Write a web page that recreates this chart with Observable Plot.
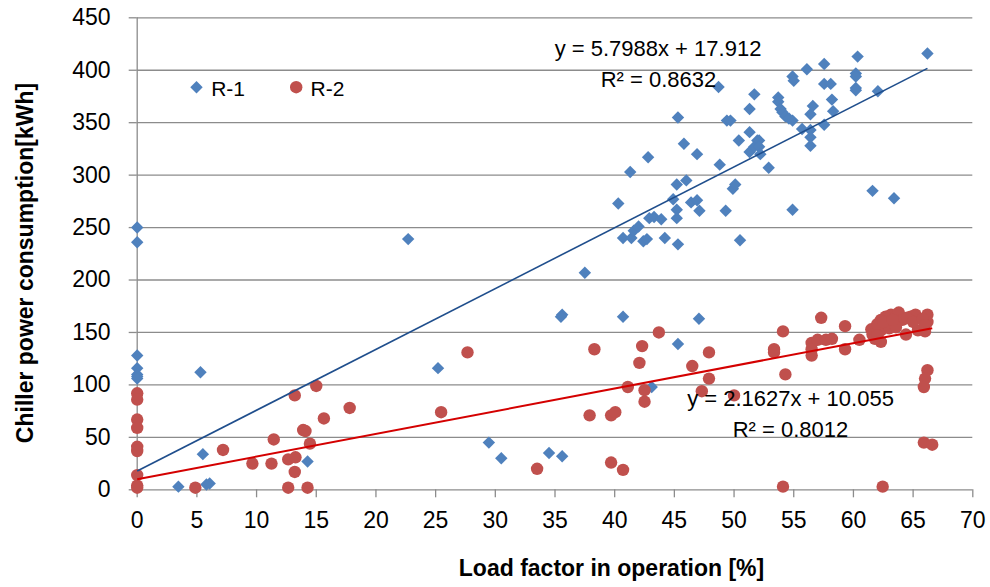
<!DOCTYPE html>
<html>
<head>
<meta charset="utf-8">
<script src="https://cdn.jsdelivr.net/npm/d3@7"></script>
<script src="https://cdn.jsdelivr.net/npm/@observablehq/plot@0.6"></script>
<style>
  html, body { margin: 0; padding: 0; background: #fff; }
  #chart { width: 990px; height: 587px; }
</style>
</head>
<body>
<div id="chart"></div>
<script>
// ---- data ----
const seriesNames = ["R-1", "R-2"];

const r1x = [0, 0, 0, 0, 0, 0, 0, 0,
  3.45, 5.3, 5.5, 5.8, 6.07,
  14.27, 22.7, 25.2, 29.46, 30.5, 34.5, 35.6,
  35.6, 35.5, 37.5, 40.7, 45.3, 47.06, 43.1,
  40.3, 41.3, 42.8, 40.7, 41.4, 41.6, 42.0, 42.4, 42.7, 42.9, 43.3, 43.9, 44.2, 45.3, 45.2, 45.2, 44.9, 45.2, 46.0, 46.4, 46.9, 47.1,
  45.3, 45.8, 46.9, 48.8, 49.3, 49.9, 50.1, 50.5, 48.7, 49.4, 49.7, 50.4, 51.3, 51.7, 51.3, 51.3, 51.7, 51.95, 52.1, 52.1, 52.2, 52.9,
  54.9, 53.7, 53.7, 53.9, 54.05, 54.3, 54.6, 54.9, 54.9, 55.0, 56.1, 55.7, 56.4, 56.4, 56.4, 56.4, 56.6,
  57.55, 57.55, 58.1, 58.2, 58.3, 57.55, 60.35, 60.2, 60.2, 60.2, 60.2, 62.05, 61.6, 63.4, 66.2];
const r1y = [250, 236, 128, 116, 110, 108, 106, 4,
  3, 112, 34, 5, 6,
  27, 239, 116, 45, 30, 35, 32,
  167, 165, 207, 165, 139, 163, 98,
  273, 303, 317, 240, 240, 247, 251, 237, 239, 259, 260, 258, 240, 234, 259, 267, 277, 291, 295, 274, 276, 266,
  355, 330, 320, 310, 266, 287, 291, 238, 384, 352, 352, 333, 363, 377, 341, 322, 327, 333, 333, 327, 320, 307,
  267, 374, 370, 363, 360, 356, 354, 352, 394, 390, 401, 344, 343, 336, 328, 358, 366,
  406, 387, 387, 372, 361, 348, 413, 397, 394, 383, 381, 380, 285, 278, 416];

const r2x = [0, 0, 0, 0, 0, 0, 0, 0, 0,
  4.87, 7.19, 9.65, 11.25, 11.44, 12.65, 13.26, 13.2, 12.65, 14.27, 13.2, 13.9, 14.1, 14.47, 15.0, 15.64, 17.8,
  25.46, 27.67, 33.5, 37.9, 38.3, 39.7, 40.7, 39.7, 40.05, 41.1, 42.07, 42.3, 42.5, 42.5, 43.7, 46.5, 47.9, 47.9, 47.3, 50.0,
  53.35, 53.35, 54.1, 54.3, 54.1, 57.3, 56.5, 56.5, 56.5, 57.0, 57.7, 58.2, 59.3, 59.3, 60.5, 61.5, 61.6,
  62.3, 62.3, 62.3, 62.45, 62.7, 63.15, 63.56, 63.8, 64.1, 64.4, 63.0, 63.56, 64.8, 65.2, 65.4,
  66.2, 66.2, 66.0, 66.2, 66.0, 65.9, 65.9, 66.6,
  62.0, 62.5, 63.3, 64.5, 65.0, 65.8, 66.0, 61.8, 62.0];
const r2y = [92, 86, 67, 59, 41, 37, 14, 4, 2,
  2, 38, 25, 25, 48, 29, 31, 17, 2, 2, 90, 57, 56, 44, 99, 68, 78,
  74, 131, 20, 71, 134, 26, 19, 71, 74, 98, 121, 137, 95, 84, 150, 118, 131, 106, 94, 90,
  134, 131, 151, 110, 3, 164, 140, 134, 128, 143, 143, 144, 156, 134, 143, 153, 148,
  162, 152, 141, 3, 165, 167, 165, 169, 162, 148, 154, 155, 165, 167, 152,
  167, 160, 151, 114, 106, 98, 45, 43,
  158, 160, 162, 164, 160, 163, 157, 144, 147];

// trendline equations shown on the chart
const trendSlope = [5.7988, 2.1627];
const trendIntercept = [17.912, 10.055];
const trendLabels = ["y = 5.7988x + 17.912", "y = 2.1627x + 10.055"];
const r2Labels = ["R² = 0.8632", "R² = 0.8012"];

const xTicks = d3.range(0, 71, 5);
const yTicks = d3.range(0, 451, 50);
const xTitle = "Load factor in operation [%]";
const yTitle = "Chiller power consumption[kWh]";

// ---- build tables ----
const r1 = r1x.map((x, i) => ({x, y: r1y[i]}));
const r2 = r2x.map((x, i) => ({x, y: r2y[i]}));
const trends = [r1x, r2x].map((xs, i) => {
  const x0 = d3.min(xs), x1 = d3.max(xs);
  return {i, x0, x1, y0: trendIntercept[i] + trendSlope[i] * x0, y1: trendIntercept[i] + trendSlope[i] * x1};
});

const BLUE = "#4f81bd", RED = "#c0504d";
const BLUE_LINE = "#1f4e8c", RED_LINE = "#d40000";
const GRID = "#8c8c8c";
const FONT = "'Liberation Sans', Arial, sans-serif";

const chart = Plot.plot({
  width: 990,
  height: 587,
  marginLeft: 136.7,
  marginRight: 17.7,
  marginTop: 17.3,
  marginBottom: 97.7,
  x: {domain: [0, 70]},
  y: {domain: [0, 450]},
  style: {fontFamily: FONT, background: "#fff", color: "#000", overflow: "visible"},
  marks: [
    Plot.gridY(yTicks.filter(d => d > 0), {stroke: GRID, strokeOpacity: 1, strokeWidth: 1.3}),
    Plot.ruleY([0], {stroke: GRID, strokeWidth: 1.3}),
    Plot.ruleX([0], {stroke: GRID, strokeWidth: 1.3}),
    Plot.axisY(yTicks, {tickSize: 8, tickPadding: 18.7, stroke: GRID, strokeWidth: 1.3, fill: "#000", fontSize: 23, label: null}),
    Plot.axisX(xTicks, {tickSize: 8, tickPadding: 14, stroke: GRID, strokeWidth: 1.3, fill: "#000", fontSize: 23, label: null}),
    // series
    Plot.dot(r1, {x: "x", y: "y", symbol: "diamond2", r: 5.6, fill: BLUE, stroke: "none"}),
    Plot.dot(r2, {x: "x", y: "y", symbol: "circle", r: 6.2, fill: RED, stroke: "none"}),
    // trendlines
    Plot.link(trends.filter(d => d.i === 0), {x1: "x0", y1: "y0", x2: "x1", y2: "y1", stroke: BLUE_LINE, strokeWidth: 1.6}),
    Plot.link(trends.filter(d => d.i === 1), {x1: "x0", y1: "y0", x2: "x1", y2: "y1", stroke: RED_LINE, strokeWidth: 2}),
    // trendline labels
    Plot.text([trendLabels[0]], {text: d => d, frameAnchor: "top-left", dx: 520.8, dy: 37.7, lineAnchor: "bottom", textAnchor: "middle", fontSize: 22, fill: "#000"}),
    Plot.text([r2Labels[0]], {text: d => d, frameAnchor: "top-left", dx: 521.3, dy: 69.4, lineAnchor: "bottom", textAnchor: "middle", fontSize: 22, fill: "#000"}),
    Plot.text([trendLabels[1]], {text: d => d, frameAnchor: "top-left", dx: 653.3, dy: 387.7, lineAnchor: "bottom", textAnchor: "middle", fontSize: 22, fill: "#000"}),
    Plot.text([r2Labels[1]], {text: d => d, frameAnchor: "top-left", dx: 653.3, dy: 419.4, lineAnchor: "bottom", textAnchor: "middle", fontSize: 22, fill: "#000"}),
    // legend
    Plot.dot([seriesNames[0]], {frameAnchor: "top-left", dx: 59.3, dy: 69.4, symbol: "diamond2", r: 5.6, fill: BLUE, stroke: "none"}),
    Plot.text([seriesNames[0]], {text: d => d, frameAnchor: "top-left", dx: 74, dy: 77.7, lineAnchor: "bottom", textAnchor: "start", fontSize: 21, fill: "#000"}),
    Plot.dot([seriesNames[1]], {frameAnchor: "top-left", dx: 159, dy: 69.4, symbol: "circle", r: 6.2, fill: RED, stroke: "none"}),
    Plot.text([seriesNames[1]], {text: d => d, frameAnchor: "top-left", dx: 173.3, dy: 77.7, lineAnchor: "bottom", textAnchor: "start", fontSize: 21, fill: "#000"}),
    // axis titles
    Plot.text([xTitle], {text: d => d, frameAnchor: "bottom", dx: 56.5, dy: 86.4, lineAnchor: "bottom", textAnchor: "middle", fontSize: 23, fontWeight: "bold", fill: "#000"}),
    Plot.text([yTitle], {text: d => d, frameAnchor: "left", dx: -104.7, dy: 9.2, rotate: -90, lineAnchor: "bottom", textAnchor: "middle", fontSize: 23, fontWeight: "bold", fill: "#000"})
  ]
});

document.getElementById("chart").appendChild(chart);
</script>
</body>
</html>
